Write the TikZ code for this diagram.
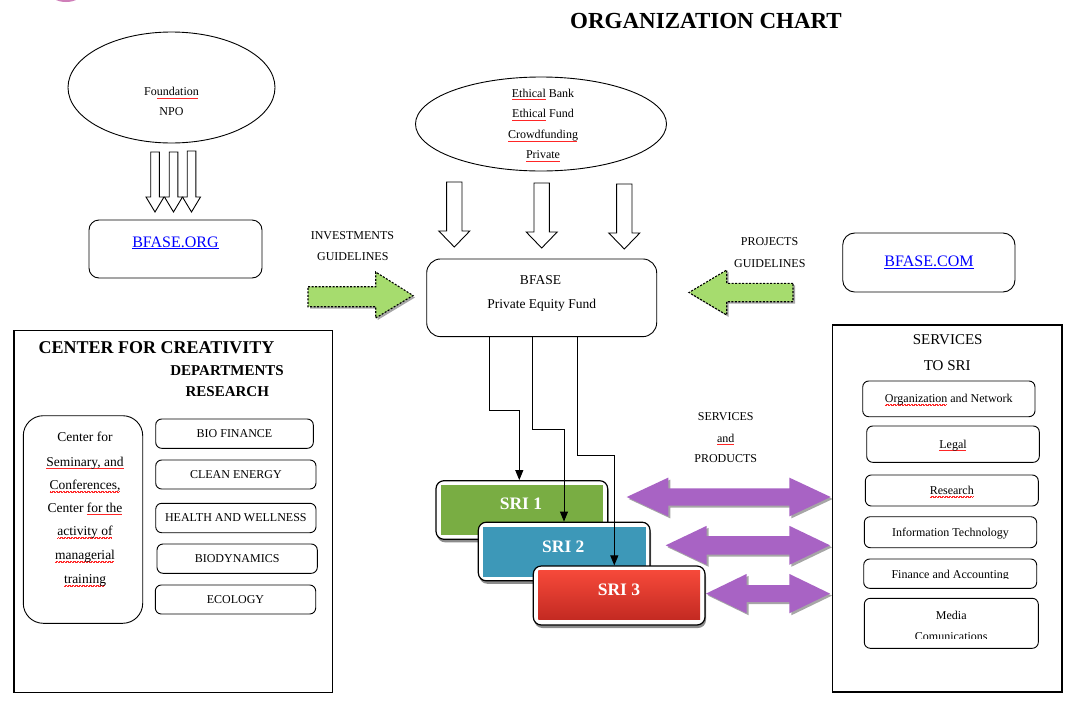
\documentclass[tikz,border=0pt]{standalone}
\usepackage{fontspec}
\setmainfont{Liberation Serif}
\usetikzlibrary{shapes.geometric,shadows,arrows.meta}
\newcommand\redsq[1]{\setbox0\hbox{#1}\rlap{\hbox to \wd0{\color{red!85}\leaders\hbox{\rule[-2.6pt]{0.7pt}{0.45pt}\rule[-2.0pt]{0.7pt}{0.45pt}}\hfil}}\box0\relax}
\newcommand\ulinetxt[1]{\setbox0\hbox{#1}\rlap{\rule[-1.8pt]{\wd0}{0.8pt}}\box0\relax}
\definecolor{greenarr}{HTML}{A6DC6E}
\definecolor{purplearr}{HTML}{A863C4}
\definecolor{sriA}{HTML}{79AD43}
\definecolor{sriB}{HTML}{3D98B8}
\definecolor{sriCtop}{HTML}{F5493A}
\definecolor{sriCbot}{HTML}{C42A22}
\definecolor{pinkc}{HTML}{CF7FB9}
\newcommand\hollowdown[6]{%
  \draw[harrow] ({#1-#5},#2) -- ({#1+#5},#2) -- ({#1+#5},#3) -- ({#1+#6},#3) -- (#1,#4) -- ({#1-#6},#3) -- ({#1-#5},#3) -- cycle;}
\newcommand\dblarrow[7]{%
  \fill[purplearr, drop shadow={shadow xshift=2pt,shadow yshift=-2pt,opacity=0.35,fill=black}]
   (#2,#1) -- (#3,{#1-#6}) -- (#3,{#1-#7}) -- (#4,{#1-#7}) -- (#4,{#1-#6}) -- (#5,#1)
   -- (#4,{#1+#6}) -- (#4,{#1+#7}) -- (#3,{#1+#7}) -- (#3,{#1+#6}) -- cycle;}
\begin{document}
\begin{tikzpicture}[x=1pt,y=-1pt,
  sm/.style={inner sep=0pt, font=\fontsize{12}{14}\selectfont, text height=8.4pt, text depth=0.5pt},
  md/.style={inner sep=0pt, font=\fontsize{13.5}{15}\selectfont, text height=9.45pt, text depth=0.55pt},
  lg/.style={inner sep=0pt, font=\fontsize{15}{16}\selectfont, text height=10.5pt, text depth=0.6pt},
  lgb/.style={inner sep=0pt, font=\bfseries\fontsize{15}{16}\selectfont, text height=10.5pt, text depth=0.6pt},
  rbox/.style={draw, rounded corners=#1, line width=0.9pt, inner sep=0pt, text height=8.4pt, text depth=0.5pt, font=\fontsize{12}{14}\selectfont},
  rbox/.default=6pt,
  bigbox/.style={draw, line width=1.2pt, inner sep=0pt},
  harrow/.style={draw, fill=white, line width=0.9pt, line join=miter},
  garrow/.style={fill=greenarr, draw=black, line width=1.1pt, dash pattern=on 2pt off 1.5pt,
     drop shadow={shadow xshift=2pt,shadow yshift=-2pt,opacity=0.35,fill=black}},
  conn/.style={draw, line width=0.9pt, -{Triangle[length=10pt,width=8pt]}},
  sriframe/.style={draw, fill=white, rounded corners=8pt, line width=1.2pt, minimum width=171.7pt, minimum height=58.6pt,
     drop shadow={shadow xshift=1pt,shadow yshift=-3pt,opacity=0.45,fill=black}},
  sritext/.style={inner sep=0pt, text=white, font=\bfseries\fontsize{17.5}{18}\selectfont, text height=12.25pt, text depth=0.7pt},
  link/.style={inner sep=0pt, text=blue, font=\fontsize{16}{18}\selectfont, text height=11.2pt, text depth=0.64pt}
]
\useasboundingbox (0,0) rectangle (1080,718);
\fill[white] (0,0) rectangle (1080,718);
\fill[pinkc] (66,-6) ellipse [x radius=15, y radius=8];

% title
\node[inner sep=0pt, font=\bfseries\fontsize{23}{24}\selectfont, text height=16.1pt, text depth=0.9pt] (title) at (706,21) {ORGANIZATION CHART};

% foundation
\node[draw, ellipse, line width=0.9pt, minimum width=207pt, minimum height=111pt] (fnd) at (171.5,87.5) {};
\node[sm] (fndt1) at (171.5,92) {Fo\redsq{undation}};
\node[sm] (fndt2) at (171.5,112) {NPO};
\hollowdown{155}{152}{197}{212}{4.3}{9}
\hollowdown{173.5}{152}{197}{212}{4.3}{9}
\hollowdown{191.5}{151}{197}{212}{4.3}{9}

\node[rbox=10pt, minimum width=173pt, minimum height=58pt] (org) at (175.5,249) {};
\node[link] (orgt) at (175.5,242) {\ulinetxt{BFASE.ORG}};

% ethical
\node[draw, ellipse, line width=0.9pt, minimum width=251pt, minimum height=94pt] (eth) at (541,124) {};
\node[sm] (etht1) at (543,93.3) {\redsq{Ethical} Bank};
\node[sm] (etht2) at (543,114) {\redsq{Ethical} Fund};
\node[sm] (etht3) at (543,135) {\redsq{Crowdfunding}};
\node[sm] (etht4) at (543,155) {\redsq{Private}};
\hollowdown{454.3}{182}{231}{247}{7.7}{15.5}
\hollowdown{541.7}{183}{232}{248}{7.7}{15.5}
\hollowdown{624.3}{184}{233}{249}{7.7}{15.5}

% BFASE
\node[rbox=14pt, minimum width=230pt, minimum height=77.7pt] (bfase) at (541.7,297.8) {};
\node[md] (bfaset1) at (540.5,280) {BFASE};
\node[md] (bfaset2) at (541.7,304) {Private Equity Fund};

% guidelines
\node[sm] (inv1) at (352.5,236) {INVESTMENTS};
\node[sm] (inv2) at (352.8,256.7) {GUIDELINES};
\fill[garrow] (308,286.7) -- (375.7,286.7) -- (375.7,272) -- (413,295.5) -- (375.7,318) -- (375.7,306.7) -- (308,306.7) -- cycle;
\node[sm] (prj1) at (769.5,241.7) {PROJECTS};
\node[sm] (prj2) at (769.8,263.3) {GUIDELINES};
\fill[garrow] (793,283.3) -- (726.7,283.3) -- (726.7,270) -- (689,292.5) -- (726.7,315) -- (726.7,301.7) -- (793,301.7) -- cycle;

\node[rbox=12pt, minimum width=172.3pt, minimum height=59pt] (com) at (928.85,262.5) {};
\node[link] (comt) at (929,261.7) {\ulinetxt{BFASE.COM}};

% left box
\node[bigbox, minimum width=318.3pt, minimum height=361.6pt] (ccbox) at (173.15,511.5) {};
\node[inner sep=0pt, font=\bfseries\fontsize{18}{20}\selectfont, text height=12.6pt, text depth=0.7pt] (cct) at (156.5,347.3) {CENTER FOR CREATIVITY};
\node[lgb] (dept) at (227,371) {DEPARTMENTS};
\node[lgb] (rest) at (227.3,391.7) {RESEARCH};
\node[rbox=20pt, minimum width=119.4pt, minimum height=207.6pt] (sem) at (83,519.5) {};
\node[md] (semt1) at (85,437.3) {Center for};
\node[md] (semt2) at (85,461.7) {\redsq{Seminary, and}};
\node[md] (semt3) at (85,485) {\redsq{Conferences,}};
\node[md] (semt4) at (85,507.7) {Center \redsq{for the}};
\node[md] (semt5) at (85,531) {\redsq{activity of}};
\node[md] (semt6) at (85,555) {\redsq{managerial}};
\node[md] (semt7) at (85,579) {\redsq{training}};
\node[rbox, minimum width=157.6pt, minimum height=29.3pt] (bio) at (234.5,433.65) {BIO FINANCE};
\node[rbox, minimum width=160.3pt, minimum height=29pt] (clean) at (235.85,474.5) {CLEAN ENERGY};
\node[rbox, minimum width=160.3pt, minimum height=29.4pt] (health) at (235.85,518) {HEALTH AND WELLNESS};
\node[rbox, minimum width=160.3pt, minimum height=29.3pt] (biod) at (237.15,558.65) {BIODYNAMICS};
\node[rbox, minimum width=160.4pt, minimum height=29pt] (eco) at (235.5,599.5) {ECOLOGY};

% right box
\node[bigbox, minimum width=229.3pt, minimum height=367pt] (svbox) at (947.35,508.5) {};
\node[lg] (svt1) at (947.7,340) {SERVICES};
\node[lg] (svt2) at (947.2,365.7) {TO SRI};
\node[rbox, minimum width=172.3pt, minimum height=35.7pt] (sorg) at (948.85,398.85) {\redsq{Organization} and Network};
\node[rbox, minimum width=172.6pt, minimum height=36.3pt] (slegal) at (953,444.15) {\redsq{Legal}};
\node[rbox, minimum width=173pt, minimum height=31pt] (sres) at (951.8,490.5) {\redsq{Research}};
\node[rbox, minimum width=172.4pt, minimum height=31pt] (sit) at (950.5,532.2) {Information Technology};
\node[rbox, minimum width=173pt, minimum height=29.3pt] (sfin) at (950.2,573.65) {};
\begin{scope}
  \clip (865,560) rectangle (1036,578.6);
  \node[sm] (sfint) at (950.2,575) {Finance and Accounting};
\end{scope}
\node[rbox, minimum width=174pt, minimum height=50pt] (smed) at (951.3,623.3) {};
\node[sm] (smedt1) at (951.3,616) {Media};
\begin{scope}
  \clip (866,625) rectangle (1036,638.3);
  \node[sm] (smedt2) at (951.3,636.5) {Comunications};
\end{scope}

% SRI boxes
\node[sriframe] (sri1f) at (521.85,510) {};
\fill[sriA] (440.7,485) rectangle (603.3,535);
\node[sritext] (sri1) at (521,503.3) {SRI 1};
\node[sriframe] (sri2f) at (564.15,551.5) {};
\fill[sriB] (483.3,526.7) rectangle (646,576.7);
\node[sritext] (sri2) at (563.3,546.7) {SRI 2};
\node[sriframe, minimum height=59pt] (sri3f) at (619.15,595.5) {};
\shade[top color=sriCtop, bottom color=sriCbot] (538.3,570.7) rectangle (700,619.3);
\node[sritext] (sri3) at (619,590) {SRI 3};

% connectors
\coordinate (k1) at (489,410);
\coordinate (e1) at (519.3,0);
\coordinate (k2) at (532.7,429.3);
\coordinate (e2) at (564,0);
\coordinate (k3) at (577.3,455);
\coordinate (e3) at (614.3,0);
\draw[conn] (bfase.south -| k1) -- (k1) -| (sri1f.north -| e1);
\draw[conn] (bfase.south -| k2) -- (k2) -| (sri2f.north -| e2);
\draw[conn] (bfase.south -| k3) -- (k3) -| (sri3f.north -| e3);

% services and products
\node[sm] (sp1) at (725.7,416.7) {SERVICES};
\node[sm] (sp2) at (725.7,438.3) {\redsq{and}};
\node[sm] (sp3) at (725.7,459) {PRODUCTS};
\dblarrow{497}{626.7}{668.3}{789.3}{830.7}{19.4}{8.7}
\dblarrow{545.3}{665.7}{706.7}{789.3}{830}{19.5}{9.2}
\dblarrow{593.6}{706}{746.7}{789.3}{830}{19.7}{8.4}
\end{tikzpicture}
\end{document}
